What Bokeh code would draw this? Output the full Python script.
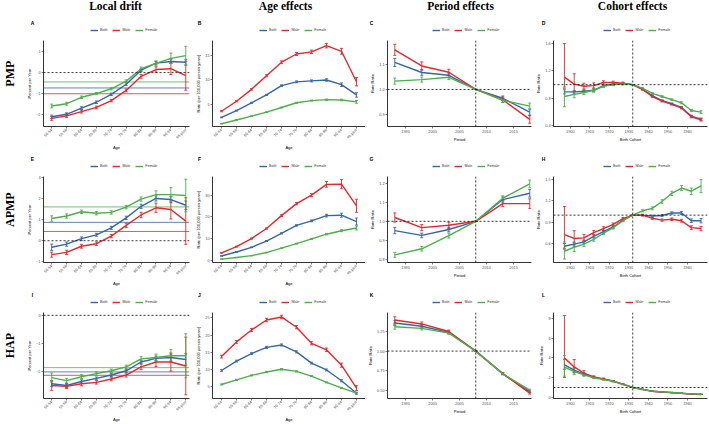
import math
from bokeh.plotting import figure
from bokeh.layouts import column, row
from bokeh.models import (ColumnDataSource, Range1d, FixedTicker, Span, Whisker, TeeHead,
                          Legend, LegendItem, NumeralTickFormatter)
from bokeh.core.properties import value
from bokeh.embed import file_html
from bokeh.resources import INLINE

# ---------------------------------------------------------------- categories
AGE_GROUPS = ["50-54", "55-59", "60-64", "65-69", "70-74", "75-79",
              "80-84", "85-89", "90-94", "95 plus"]
PERIODS = [1993, 1998, 2003, 2008, 2013, 2018]
COHORTS = [1897, 1902, 1907, 1912, 1917, 1922, 1927, 1932,
           1937, 1942, 1947, 1952, 1957, 1962, 1967]
REF_PERIOD = 2008
REF_COHORT = 1932
SEXES = ["Both", "Male", "Female"]
COLORS = {"Both": "#3566A8", "Male": "#E3292C", "Female": "#4DAF4A"}

COLUMN_TITLES = ["Local drift", "Age effects", "Period effects", "Cohort effects"]
ROW_TITLES = ["PMP", "APMP", "HAP"]
PANEL_LETTERS = [["A", "B", "C", "D"], ["E", "F", "G", "H"], ["I", "J", "K", "L"]]

PERIOD_TICKS = [1995, 2000, 2005, 2010, 2015]
COHORT_TICKS = [1900, 1910, 1920, 1930, 1940, 1950, 1960]

# ---------------------------------------------------------------- PMP
PMP_DRIFT_BOTH = [-2.13, -2.01, -1.71, -1.43, -1.05, -0.56, 0.12, 0.46, 0.54, 0.50]
PMP_DRIFT_BOTH_CI = [0.08, 0.07, 0.06, 0.06, 0.06, 0.06, 0.06, 0.08, 0.10, 0.14]
PMP_DRIFT_MALE = [-2.21, -2.09, -1.88, -1.68, -1.35, -0.86, -0.18, 0.15, 0.19, -0.15]
PMP_DRIFT_MALE_CI = [0.09, 0.08, 0.07, 0.06, 0.06, 0.07, 0.09, 0.13, 0.28, 0.70]
PMP_DRIFT_FEMALE = [-1.61, -1.50, -1.19, -1.01, -0.78, -0.41, 0.19, 0.45, 0.69, 0.82]
PMP_DRIFT_FEMALE_CI = [0.09, 0.07, 0.06, 0.05, 0.05, 0.06, 0.08, 0.12, 0.25, 0.45]
PMP_NET_DRIFT = [-0.74, -1.02, -0.45]          # Both, Male, Female

PMP_AGE_BOTH = [2.33, 3.72, 5.31, 6.91, 8.82, 9.58, 9.77, 9.96, 9.00, 6.91]
PMP_AGE_BOTH_CI = [0.08, 0.08, 0.10, 0.12, 0.15, 0.18, 0.20, 0.25, 0.35, 0.45]
PMP_AGE_MALE = [3.59, 5.63, 8.05, 10.84, 13.59, 15.25, 15.69, 16.95, 15.80, 9.60]
PMP_AGE_MALE_CI = [0.12, 0.14, 0.16, 0.20, 0.25, 0.30, 0.35, 0.45, 0.60, 0.85]
PMP_AGE_FEMALE = [1.05, 1.81, 2.58, 3.40, 4.35, 5.31, 5.76, 5.95, 5.88, 5.50]
PMP_AGE_FEMALE_CI = [0.05, 0.05, 0.06, 0.07, 0.08, 0.10, 0.10, 0.12, 0.15, 0.28]

PMP_PERIOD_BOTH = [1.107, 1.067, 1.056, 1.000, 0.965, 0.910]
PMP_PERIOD_BOTH_CI = [0.016, 0.011, 0.009, 0.0, 0.009, 0.012]
PMP_PERIOD_MALE = [1.157, 1.093, 1.068, 1.000, 0.959, 0.881]
PMP_PERIOD_MALE_CI = [0.022, 0.016, 0.012, 0.0, 0.011, 0.015]
PMP_PERIOD_FEMALE = [1.033, 1.039, 1.048, 1.000, 0.957, 0.934]
PMP_PERIOD_FEMALE_CI = [0.012, 0.010, 0.009, 0.0, 0.009, 0.012]

PMP_COHORT_BOTH = [0.895, 0.895, 0.905, 0.918, 0.986, 1.008, 1.018, 1.000,
                   0.932, 0.841, 0.769, 0.722, 0.668, 0.541, 0.497]
PMP_COHORT_BOTH_LO = [0.03, 0.02, 0.02, 0.02, 0.015, 0.012, 0.01, 0.0,
                      0.008, 0.01, 0.01, 0.01, 0.012, 0.014, 0.016]
PMP_COHORT_BOTH_HI = [0.03, 0.02, 0.02, 0.02, 0.015, 0.012, 0.01, 0.0,
                      0.008, 0.01, 0.01, 0.01, 0.012, 0.014, 0.016]
PMP_COHORT_MALE = [1.109, 1.008, 0.977, 0.986, 1.031, 1.031, 1.022, 1.000,
                   0.932, 0.827, 0.759, 0.714, 0.660, 0.532, 0.487]
PMP_COHORT_MALE_LO = [0.16, 0.11, 0.04, 0.035, 0.025, 0.02, 0.015, 0.0,
                      0.01, 0.012, 0.012, 0.012, 0.014, 0.016, 0.018]
PMP_COHORT_MALE_HI = [0.49, 0.15, 0.045, 0.04, 0.025, 0.02, 0.015, 0.0,
                      0.01, 0.012, 0.012, 0.012, 0.014, 0.016, 0.018]
PMP_COHORT_FEMALE = [0.827, 0.859, 0.886, 0.918, 0.977, 1.000, 1.009, 1.000,
                     0.950, 0.872, 0.827, 0.782, 0.736, 0.623, 0.600]
PMP_COHORT_FEMALE_LO = [0.15, 0.05, 0.03, 0.025, 0.02, 0.015, 0.012, 0.0,
                        0.01, 0.012, 0.012, 0.012, 0.014, 0.016, 0.02]
PMP_COHORT_FEMALE_HI = [0.14, 0.05, 0.03, 0.025, 0.02, 0.015, 0.012, 0.0,
                        0.01, 0.012, 0.012, 0.012, 0.014, 0.016, 0.02]

# ---------------------------------------------------------------- APMP
APMP_DRIFT_BOTH = [-0.31, -0.16, 0.10, 0.28, 0.61, 1.08, 1.63, 2.00, 1.95, 1.68]
APMP_DRIFT_BOTH_CI = [0.15, 0.10, 0.08, 0.07, 0.07, 0.08, 0.10, 0.12, 0.15, 0.20]
APMP_DRIFT_MALE = [-0.66, -0.55, -0.26, -0.14, 0.22, 0.73, 1.22, 1.56, 1.48, 0.93]
APMP_DRIFT_MALE_CI = [0.12, 0.10, 0.09, 0.08, 0.08, 0.10, 0.13, 0.22, 0.45, 1.10]
APMP_DRIFT_FEMALE = [1.05, 1.17, 1.37, 1.30, 1.34, 1.59, 1.97, 2.18, 2.18, 2.14]
APMP_DRIFT_FEMALE_CI = [0.13, 0.10, 0.08, 0.08, 0.08, 0.08, 0.10, 0.18, 0.33, 0.77]
APMP_NET_DRIFT = [0.87, 0.44, 1.60]

APMP_AGE_BOTH = [2.14, 3.97, 6.10, 8.97, 12.50, 16.10, 18.20, 20.60, 20.80, 17.90]
APMP_AGE_BOTH_CI = [0.10, 0.12, 0.15, 0.20, 0.25, 0.30, 0.40, 0.60, 0.90, 1.60]
APMP_AGE_MALE = [3.55, 6.41, 10.10, 14.70, 20.60, 26.10, 30.00, 34.90, 35.00, 25.10]
APMP_AGE_MALE_CI = [0.15, 0.20, 0.25, 0.30, 0.40, 0.50, 0.70, 1.30, 2.10, 3.00]
APMP_AGE_FEMALE = [0.71, 1.42, 2.28, 3.70, 5.70, 7.80, 9.96, 12.10, 13.70, 14.96]
APMP_AGE_FEMALE_CI = [0.05, 0.06, 0.08, 0.10, 0.15, 0.20, 0.25, 0.30, 0.45, 0.90]

APMP_PERIOD_BOTH = [0.951, 0.926, 0.957, 1.000, 1.114, 1.147]
APMP_PERIOD_BOTH_CI = [0.016, 0.012, 0.012, 0.0, 0.013, 0.020]
APMP_PERIOD_MALE = [1.020, 0.967, 0.979, 1.000, 1.093, 1.093]
APMP_PERIOD_MALE_CI = [0.024, 0.016, 0.016, 0.0, 0.016, 0.025]
APMP_PERIOD_FEMALE = [0.824, 0.856, 0.925, 1.000, 1.121, 1.196]
APMP_PERIOD_FEMALE_CI = [0.013, 0.012, 0.013, 0.0, 0.013, 0.020]

APMP_COHORT_BOTH = [0.559, 0.590, 0.621, 0.700, 0.766, 0.832, 0.929, 1.000,
                    1.000, 0.987, 0.995, 1.030, 1.030, 0.921, 0.921]
APMP_COHORT_BOTH_LO = [0.04, 0.03, 0.025, 0.02, 0.02, 0.015, 0.012, 0.0,
                       0.01, 0.012, 0.014, 0.016, 0.02, 0.025, 0.03]
APMP_COHORT_BOTH_HI = [0.04, 0.03, 0.025, 0.02, 0.02, 0.015, 0.012, 0.0,
                       0.01, 0.012, 0.014, 0.016, 0.02, 0.025, 0.03]
APMP_COHORT_MALE = [0.723, 0.670, 0.678, 0.753, 0.810, 0.868, 0.951, 1.000,
                    1.000, 0.955, 0.929, 0.942, 0.921, 0.823, 0.810]
APMP_COHORT_MALE_LO = [0.19, 0.09, 0.045, 0.03, 0.025, 0.02, 0.015, 0.0,
                       0.012, 0.014, 0.016, 0.018, 0.02, 0.025, 0.03]
APMP_COHORT_MALE_HI = [0.40, 0.11, 0.05, 0.03, 0.025, 0.02, 0.015, 0.0,
                       0.012, 0.014, 0.016, 0.018, 0.02, 0.025, 0.03]
APMP_COHORT_FEMALE = [0.489, 0.546, 0.590, 0.656, 0.744, 0.823, 0.921, 1.000,
                      1.061, 1.096, 1.193, 1.308, 1.383, 1.338, 1.413]
APMP_COHORT_FEMALE_LO = [0.11, 0.06, 0.035, 0.025, 0.02, 0.02, 0.015, 0.0,
                         0.015, 0.02, 0.025, 0.03, 0.035, 0.045, 0.095]
APMP_COHORT_FEMALE_HI = [0.13, 0.06, 0.035, 0.025, 0.02, 0.02, 0.015, 0.0,
                         0.015, 0.02, 0.025, 0.03, 0.035, 0.045, 0.09]

# ---------------------------------------------------------------- HAP
HAP_DRIFT_BOTH = [-2.42, -2.48, -2.34, -2.23, -2.11, -1.96, -1.65, -1.52, -1.49, -1.56]
HAP_DRIFT_BOTH_CI = [0.10, 0.07, 0.06, 0.05, 0.05, 0.05, 0.06, 0.08, 0.12, 0.20]
HAP_DRIFT_MALE = [-2.48, -2.51, -2.42, -2.37, -2.25, -2.11, -1.82, -1.65, -1.65, -1.79]
HAP_DRIFT_MALE_CI = [0.17, 0.08, 0.07, 0.06, 0.06, 0.07, 0.10, 0.16, 0.32, 1.02]
HAP_DRIFT_FEMALE = [-2.20, -2.31, -2.17, -2.06, -1.96, -1.82, -1.54, -1.49, -1.43, -1.43]
HAP_DRIFT_FEMALE_CI = [0.16, 0.08, 0.07, 0.06, 0.06, 0.06, 0.08, 0.12, 0.22, 0.78]
HAP_NET_DRIFT = [-2.00, -2.12, -1.85]

HAP_AGE_BOTH = [9.64, 12.40, 14.60, 16.40, 17.10, 15.10, 11.80, 9.80, 6.64, 3.00]
HAP_AGE_BOTH_CI = [0.25, 0.25, 0.25, 0.30, 0.30, 0.30, 0.25, 0.25, 0.30, 0.30]
HAP_AGE_MALE = [13.70, 18.00, 21.50, 24.40, 25.30, 22.30, 17.60, 15.70, 11.20, 4.50]
HAP_AGE_MALE_CI = [0.40, 0.40, 0.45, 0.50, 0.50, 0.45, 0.45, 0.50, 0.60, 0.70]
HAP_AGE_FEMALE = [5.55, 6.90, 8.20, 9.20, 10.00, 9.37, 8.00, 6.17, 4.54, 3.00]
HAP_AGE_FEMALE_CI = [0.15, 0.15, 0.15, 0.18, 0.20, 0.18, 0.15, 0.15, 0.15, 0.20]

HAP_PERIOD_BOTH = [1.353, 1.313, 1.236, 1.000, 0.713, 0.489]
HAP_PERIOD_BOTH_CI = [0.030, 0.020, 0.015, 0.0, 0.010, 0.010]
HAP_PERIOD_MALE = [1.392, 1.342, 1.247, 1.000, 0.717, 0.470]
HAP_PERIOD_MALE_CI = [0.040, 0.025, 0.018, 0.0, 0.012, 0.012]
HAP_PERIOD_FEMALE = [1.306, 1.286, 1.227, 1.000, 0.713, 0.509]
HAP_PERIOD_FEMALE_CI = [0.030, 0.020, 0.015, 0.0, 0.010, 0.010]

HAP_COHORT_BOTH = [3.30, 2.75, 2.35, 2.05, 1.85, 1.63, 1.32, 1.00,
                   0.80, 0.62, 0.54, 0.48, 0.40, 0.34, 0.30]
HAP_COHORT_BOTH_LO = [0.45, 0.22, 0.12, 0.08, 0.06, 0.05, 0.03, 0.0,
                      0.02, 0.015, 0.015, 0.012, 0.012, 0.012, 0.012]
HAP_COHORT_BOTH_HI = [0.55, 0.25, 0.12, 0.08, 0.06, 0.05, 0.03, 0.0,
                      0.02, 0.015, 0.015, 0.012, 0.012, 0.012, 0.012]
HAP_COHORT_MALE = [4.00, 3.08, 2.45, 2.07, 1.87, 1.65, 1.33, 1.00,
                   0.80, 0.62, 0.54, 0.48, 0.40, 0.33, 0.29]
HAP_COHORT_MALE_LO = [2.00, 0.60, 0.20, 0.10, 0.08, 0.06, 0.04, 0.0,
                      0.02, 0.02, 0.015, 0.015, 0.012, 0.012, 0.012]
HAP_COHORT_MALE_HI = [4.30, 0.75, 0.25, 0.10, 0.08, 0.06, 0.04, 0.0,
                      0.02, 0.02, 0.015, 0.015, 0.012, 0.012, 0.012]
HAP_COHORT_FEMALE = [3.05, 2.60, 2.28, 1.98, 1.80, 1.63, 1.32, 1.00,
                     0.81, 0.63, 0.55, 0.49, 0.41, 0.35, 0.31]
HAP_COHORT_FEMALE_LO = [0.90, 0.30, 0.15, 0.08, 0.06, 0.05, 0.03, 0.0,
                        0.02, 0.015, 0.015, 0.012, 0.012, 0.012, 0.012]
HAP_COHORT_FEMALE_HI = [1.20, 0.35, 0.15, 0.08, 0.06, 0.05, 0.03, 0.0,
                        0.02, 0.015, 0.015, 0.012, 0.012, 0.012, 0.012]

# ---------------------------------------------------------------- layout constants
PAGE_W = 709
HEADER_H = 16
STRIP_H = 22           # panel letters + legends above each row of panels
PANEL_H = 114
LABEL_W = 23
SANS = "Liberation Sans"
SERIF = "Liberation Serif"
TICK_FONT = "3.8px"
AXIS_FONT = "4px"
LINE_W = 1.4

GEOM = {
    "drift":  dict(width=168, left=20, right=2, xr=(0.45, 10.25),
                   xlabel="Age", ylabel="Percent per Year"),
    "age":    dict(width=174, left=21, right=0, xr=(0.4, 10.6),
                   xlabel="Age", ylabel="Rate (per 100,000 person years)"),
    "period": dict(width=168, left=22, right=2, xr=(1991.65, 2018.32),
                   xlabel="Period", ylabel="Rate Ratio"),
    "cohort": dict(width=176, left=20, right=2, xr=(1891.4, 1970.3),
                   xlabel="Birth Cohort", ylabel="Rate Ratio"),
}
COL_TITLE_X = [115, 285, 460, 632]
LETTER_X = [32, 199, 371, 543]
LEGEND_CENTER_X = [120, 289, 462, 633]


def style_axes(p):
    for ax in (p.xaxis[0], p.yaxis[0]):
        ax.axis_line_color = "black"
        ax.axis_line_width = 0.8
        ax.major_tick_line_color = "#333333"
        ax.major_tick_line_width = 0.6
        ax.major_tick_in = 0
        ax.major_tick_out = 2
        ax.minor_tick_line_color = None
        ax.major_label_text_font = SANS
        ax.major_label_text_font_size = TICK_FONT
        ax.major_label_text_color = "#4D4D4D"
        ax.major_label_standoff = 1
        ax.axis_label_text_font = SANS
        ax.axis_label_text_font_size = AXIS_FONT
        ax.axis_label_text_font_style = "normal"
        ax.axis_label_text_color = "black"
        ax.axis_label_standoff = 1


def make_panel(kind, series, y_range, y_ticks, y_format=None, net_drift=None):
    g = GEOM[kind]
    p = figure(width=g["width"], height=PANEL_H, title=None,
               x_range=Range1d(*g["xr"]), y_range=Range1d(*y_range),
               toolbar_location=None, output_backend="svg",
               min_border_left=g["left"], min_border_right=g["right"],
               min_border_top=2, min_border_bottom=20)
    p.grid.visible = False
    p.outline_line_color = None

    if kind in ("drift", "age"):
        xs = list(range(1, len(AGE_GROUPS) + 1))
        p.xaxis.ticker = FixedTicker(ticks=xs)
        p.xaxis.major_label_overrides = {i: lab for i, lab in zip(xs, AGE_GROUPS)}
        p.xaxis.major_label_orientation = math.pi / 4
    elif kind == "period":
        xs = PERIODS
        p.xaxis.ticker = FixedTicker(ticks=PERIOD_TICKS)
    else:
        xs = COHORTS
        p.xaxis.ticker = FixedTicker(ticks=COHORT_TICKS)

    p.yaxis.ticker = FixedTicker(ticks=y_ticks)
    if y_format:
        p.yaxis.formatter = NumeralTickFormatter(format=y_format)
    p.xaxis.axis_label = g["xlabel"]
    p.yaxis.axis_label = g["ylabel"]
    style_axes(p)

    # reference lines
    dash = dict(line_color="black", line_width=0.8, line_dash="2 2")
    if kind == "drift":
        p.add_layout(Span(location=0, dimension="width", **dash))
        for sex, loc in zip(SEXES, net_drift):
            p.add_layout(Span(location=loc, dimension="width", line_color=COLORS[sex],
                              line_width=0.8, level="underlay"))
    elif kind in ("period", "cohort"):
        ref_x = REF_PERIOD if kind == "period" else REF_COHORT
        p.add_layout(Span(location=1.0, dimension="width", **dash))
        p.add_layout(Span(location=ref_x, dimension="height", **dash))

    for sex, (vals, err_lo, err_hi) in zip(SEXES, series):
        c = COLORS[sex]
        src = ColumnDataSource(dict(
            x=xs, y=vals,
            lo=[v - e for v, e in zip(vals, err_lo)],
            hi=[v + e for v, e in zip(vals, err_hi)]))
        p.add_layout(Whisker(source=src, base="x", lower="lo", upper="hi",
                             line_color=c, line_width=0.9,
                             upper_head=TeeHead(size=3, line_color=c, line_width=0.9),
                             lower_head=TeeHead(size=3, line_color=c, line_width=0.9)))
        p.line("x", "y", source=src, line_color=c, line_width=LINE_W, line_join="round")
    return p


def sym(vals, ci):
    return (vals, ci, ci)


def bare_figure(width, height):
    p = figure(width=width, height=height, x_range=Range1d(0, width),
               y_range=Range1d(0, height), toolbar_location=None, output_backend="svg",
               x_axis_location=None, y_axis_location=None, min_border=0)
    p.grid.visible = False
    p.outline_line_color = None
    return p


def strip(letters):
    """Panel letters and the sex legends that sit above one row of panels."""
    s = bare_figure(PAGE_W, STRIP_H)
    s.text(x=LETTER_X, y=[16] * 4, text=letters, text_font=value(SANS),
           text_font_style="bold", text_font_size="5px", text_align="center",
           text_baseline="middle", text_color="black")
    # key-only renderers: they hold no visible points, they only style the legend keys
    nan = float("nan")
    keys = [s.line(x=[nan, nan], y=[nan, nan], line_color=COLORS[sex], line_width=LINE_W)
            for sex in SEXES]
    for cx in LEGEND_CENTER_X:
        leg = Legend(items=[LegendItem(label=sex, renderers=[k]) for sex, k in zip(SEXES, keys)],
                     orientation="horizontal", location=(cx - 30, 5),
                     margin=0, padding=1, spacing=5, glyph_width=8, glyph_height=6,
                     label_standoff=2, label_height=6, label_width=1,
                     label_text_font=SANS, label_text_font_size="3.6px",
                     label_text_color="#333333",
                     border_line_color=None, background_fill_alpha=0)
        s.add_layout(leg)
    return s


def row_label(text):
    p = bare_figure(LABEL_W, PANEL_H)
    p.text(x=[9], y=[70], text=[text], angle=math.pi / 2,
           text_font=value(SERIF), text_font_style="bold", text_font_size="12px",
           text_align="center", text_baseline="middle", text_color="black")
    return p


header = bare_figure(PAGE_W, HEADER_H)
header.text(x=COL_TITLE_X, y=[11] * 4, text=COLUMN_TITLES,
            text_font=value(SERIF), text_font_style="bold", text_font_size="11.5px",
            text_align="center", text_baseline="middle", text_color="black")

# ---------------------------------------------------------------- panels
pA = make_panel("drift",
                [sym(PMP_DRIFT_BOTH, PMP_DRIFT_BOTH_CI), sym(PMP_DRIFT_MALE, PMP_DRIFT_MALE_CI),
                 sym(PMP_DRIFT_FEMALE, PMP_DRIFT_FEMALE_CI)],
                (-2.6, 1.55), [-2, -1, 0, 1], net_drift=PMP_NET_DRIFT)
pB = make_panel("age",
                [sym(PMP_AGE_BOTH, PMP_AGE_BOTH_CI), sym(PMP_AGE_MALE, PMP_AGE_MALE_CI),
                 sym(PMP_AGE_FEMALE, PMP_AGE_FEMALE_CI)],
                (0.48, 18.0), [5, 10, 15])
pC = make_panel("period",
                [sym(PMP_PERIOD_BOTH, PMP_PERIOD_BOTH_CI), sym(PMP_PERIOD_MALE, PMP_PERIOD_MALE_CI),
                 sym(PMP_PERIOD_FEMALE, PMP_PERIOD_FEMALE_CI)],
                (0.853, 1.194), [0.9, 1.0, 1.1], "0.0")
pD = make_panel("cohort",
                [(PMP_COHORT_BOTH, PMP_COHORT_BOTH_LO, PMP_COHORT_BOTH_HI),
                 (PMP_COHORT_MALE, PMP_COHORT_MALE_LO, PMP_COHORT_MALE_HI),
                 (PMP_COHORT_FEMALE, PMP_COHORT_FEMALE_LO, PMP_COHORT_FEMALE_HI)],
                (0.39, 1.644), [0.4, 0.8, 1.2, 1.6], "0.0")

pE = make_panel("drift",
                [sym(APMP_DRIFT_BOTH, APMP_DRIFT_BOTH_CI), sym(APMP_DRIFT_MALE, APMP_DRIFT_MALE_CI),
                 sym(APMP_DRIFT_FEMALE, APMP_DRIFT_FEMALE_CI)],
                (-1.03, 3.04), [-1, 0, 1, 2, 3], net_drift=APMP_NET_DRIFT)
pF = make_panel("age",
                [sym(APMP_AGE_BOTH, APMP_AGE_BOTH_CI), sym(APMP_AGE_MALE, APMP_AGE_MALE_CI),
                 sym(APMP_AGE_FEMALE, APMP_AGE_FEMALE_CI)],
                (-0.85, 38.5), [0, 10, 20, 30])
pG = make_panel("period",
                [sym(APMP_PERIOD_BOTH, APMP_PERIOD_BOTH_CI), sym(APMP_PERIOD_MALE, APMP_PERIOD_MALE_CI),
                 sym(APMP_PERIOD_FEMALE, APMP_PERIOD_FEMALE_CI)],
                (0.784, 1.235), [0.8, 0.9, 1.0, 1.1, 1.2], "0.0")
pH = make_panel("cohort",
                [(APMP_COHORT_BOTH, APMP_COHORT_BOTH_LO, APMP_COHORT_BOTH_HI),
                 (APMP_COHORT_MALE, APMP_COHORT_MALE_LO, APMP_COHORT_MALE_HI),
                 (APMP_COHORT_FEMALE, APMP_COHORT_FEMALE_LO, APMP_COHORT_FEMALE_HI)],
                (0.33, 1.546), [0.6, 0.9, 1.2, 1.5], "0.0")

pI = make_panel("drift",
                [sym(HAP_DRIFT_BOTH, HAP_DRIFT_BOTH_CI), sym(HAP_DRIFT_MALE, HAP_DRIFT_MALE_CI),
                 sym(HAP_DRIFT_FEMALE, HAP_DRIFT_FEMALE_CI)],
                (-2.94, 0.1), [-2, -1, 0], net_drift=HAP_NET_DRIFT)
pJ = make_panel("age",
                [sym(HAP_AGE_BOTH, HAP_AGE_BOTH_CI), sym(HAP_AGE_MALE, HAP_AGE_MALE_CI),
                 sym(HAP_AGE_FEMALE, HAP_AGE_FEMALE_CI)],
                (1.45, 26.6), [5, 10, 15, 20, 25])
pK = make_panel("period",
                [sym(HAP_PERIOD_BOTH, HAP_PERIOD_BOTH_CI), sym(HAP_PERIOD_MALE, HAP_PERIOD_MALE_CI),
                 sym(HAP_PERIOD_FEMALE, HAP_PERIOD_FEMALE_CI)],
                (0.403, 1.486), [0.5, 0.75, 1.0, 1.25], "0.00")
pL = make_panel("cohort",
                [(HAP_COHORT_BOTH, HAP_COHORT_BOTH_LO, HAP_COHORT_BOTH_HI),
                 (HAP_COHORT_MALE, HAP_COHORT_MALE_LO, HAP_COHORT_MALE_HI),
                 (HAP_COHORT_FEMALE, HAP_COHORT_FEMALE_LO, HAP_COHORT_FEMALE_HI)],
                (-0.12, 8.6), [0, 2, 4, 6, 8])

panel_rows = [[pA, pB, pC, pD], [pE, pF, pG, pH], [pI, pJ, pK, pL]]
blocks = [header]
for title, letters, panels in zip(ROW_TITLES, PANEL_LETTERS, panel_rows):
    blocks.append(strip(letters))
    blocks.append(row(row_label(title), *panels))

layout = column(*blocks)

open("out.html", "w").write(file_html(layout, INLINE))
